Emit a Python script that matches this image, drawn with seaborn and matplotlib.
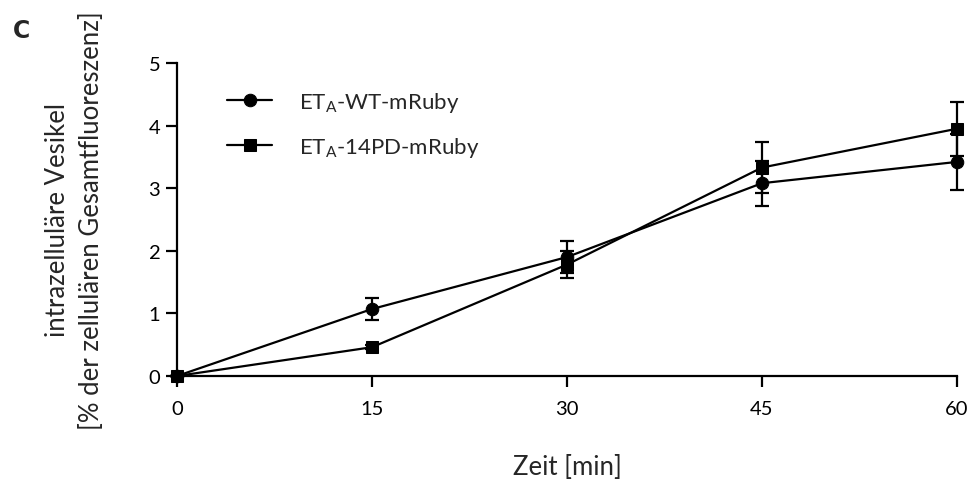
import matplotlib
matplotlib.use("Agg")
import matplotlib.pyplot as plt
import seaborn as sns
import pandas as pd

time_min = [0, 15, 30, 45, 60]
wt_mean = [0.0, 1.07, 1.90, 3.08, 3.42]
wt_sem = [0.0, 0.17, 0.25, 0.36, 0.45]
pd14_mean = [0.0, 0.46, 1.78, 3.33, 3.95]
pd14_sem = [0.0, 0.03, 0.22, 0.41, 0.43]
series_names = ["ET$_\\mathrm{A}$-WT-mRuby", "ET$_\\mathrm{A}$-14PD-mRuby"]
x_ticks = [0, 15, 30, 45, 60]
y_ticks = [0, 1, 2, 3, 4, 5]

sns.set_theme(style="ticks")
plt.rcParams['font.family'] = ['Lato', 'DejaVu Sans']
plt.rcParams['mathtext.fontset'] = 'custom'
plt.rcParams['mathtext.rm'] = 'Lato'
plt.rcParams['mathtext.it'] = 'Lato:italic'

df = pd.DataFrame({
    "t": time_min * 2,
    "v": wt_mean + pd14_mean,
    "s": [series_names[0]] * 5 + [series_names[1]] * 5,
})

fig = plt.figure(figsize=(9.74, 4.81), dpi=100)
ax = fig.add_axes([177 / 974, 1 - 377 / 481, 780 / 974, 313 / 481])

for mean, sem in [(wt_mean, wt_sem), (pd14_mean, pd14_sem)]:
    ax.errorbar(time_min, mean, yerr=sem, fmt="none", ecolor="black",
                elinewidth=1.6, capsize=5, capthick=1.6, zorder=2)

sns.lineplot(data=df, x="t", y="v", hue="s", style="s",
             markers={series_names[0]: "o", series_names[1]: "s"},
             dashes=False, palette=["black", "black"], markersize=9,
             linewidth=1.6, markeredgecolor="black", ax=ax, zorder=3)

ax.set_xlim(0, 60)
ax.set_ylim(0, 5)
ax.set_xticks(x_ticks)
ax.set_yticks(y_ticks)
ax.tick_params(axis="both", width=1.6, length=8, color="black",
               labelcolor="black", labelsize=14.5)
ax.tick_params(axis="x", pad=9)
ax.tick_params(axis="y", pad=4)
sns.despine(ax=ax)
for sp in ["left", "bottom"]:
    ax.spines[sp].set_linewidth(1.6)
    ax.spines[sp].set_color("black")
for ln in ax.lines:
    ln.set_clip_on(False)
for c in ax.collections:
    c.set_clip_on(False)

ax.set_xlabel("Zeit [min]", fontsize=18.5, labelpad=27)
ax.set_ylabel("intrazelluläre Vesikel\n[% der zellulären Gesamtfluoreszenz]",
              fontsize=18.5, labelpad=32, linespacing=1.45)

leg = ax.legend(loc="upper left", bbox_to_anchor=(0.039, 0.978), frameon=False,
                fontsize=16, handlelength=2.0, handletextpad=1.2, labelspacing=0.93)
for h in leg.legend_handles:
    h.set_color("black")
    h.set_markersize(9)

fig.text(13 / 974, 1 - 31 / 481, "C", fontsize=17, fontweight="bold",
         family="DejaVu Sans", va="center", ha="left")

fig.savefig("out.png", dpi=100)
